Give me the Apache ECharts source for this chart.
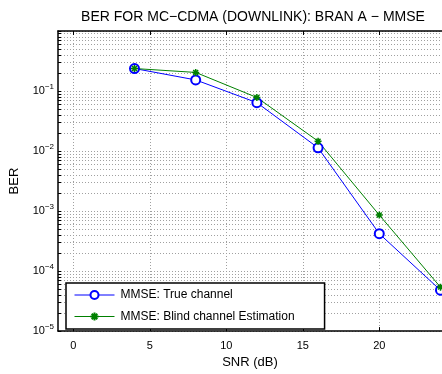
<!DOCTYPE html>
<html><head><meta charset="utf-8">
<script src="https://cdn.jsdelivr.net/npm/echarts@6/dist/echarts.min.js"></script>
<style>html,body{margin:0;padding:0;background:#fff}#c{width:442px;height:374px}</style>
</head><body><div id="c"></div>
<script>
const snr = [4, 8, 12, 16, 20, 24];
const berTrue = [0.237, 0.153, 0.064, 0.0113, 0.00042, 0.000048];
const berBlind = [0.237, 0.204, 0.078, 0.0146, 0.00086, 0.000054];
const xTicks = [0, 5, 10, 15, 20];
const yDecades = [1e-5, 1e-4, 1e-3, 1e-2, 1e-1];
const yMinor = [];
for (let d = -5; d < 0; d++) for (let m = 1; m <= 9; m++) yMinor.push(m * Math.pow(10, d));
yMinor.push(1);

const F = 'Liberation Sans, Arial, Helvetica, sans-serif';
const chart = echarts.init(document.getElementById('c'));
const gridLine = {show: true, lineStyle: {color: '#a0a0a0', type: [1, 2], width: 1}};
chart.setOption({
  animation: false,
  textStyle: {fontFamily: F},
  title: {text: 'BER FOR MC\u2212CDMA (DOWNLINK): BRAN A \u2212 MMSE', left: 248, textAlign: 'center', top: 5,
    textStyle: {fontFamily: F, fontSize: 14, fontWeight: 'normal', color: '#000'}},
  grid: {left: 52, right: 0, top: 31, bottom: 36, show: false},
  legend: {
    orient: 'vertical', left: 66, top: 283, itemWidth: 40, itemHeight: 10, itemGap: 9,
    padding: [6, 30, 6, 8], backgroundColor: '#fff', borderColor: '#000', borderWidth: 1.5, borderRadius: 0,
    lineStyle: {width: 1},
    textStyle: {fontFamily: F, fontSize: 12, color: '#000', padding: [0, 0, 0, 1]},
    data: ['MMSE: True channel', 'MMSE: Blind channel Estimation']
  },
  xAxis: [{
    type: 'value', min: -1, max: 24.1, position: 'bottom',
    axisLine: {show: true, onZero: false, lineStyle: {color: '#000', width: 1.5}},
    axisTick: {show: true, inside: true, length: 4, customValues: xTicks, lineStyle: {color: '#000'}},
    axisLabel: {customValues: xTicks, color: '#000', fontSize: 11, fontFamily: F, margin: 9},
    splitLine: gridLine,
    name: 'SNR (dB)', nameLocation: 'middle', nameGap: 24,
    nameTextStyle: {fontFamily: F, fontSize: 13, color: '#000'}
  }, {
    type: 'value', min: -1, max: 24.1, position: 'top',
    axisLine: {show: true, onZero: false, lineStyle: {color: '#000', width: 1.5}},
    axisTick: {show: true, inside: true, length: 4, customValues: xTicks, lineStyle: {color: '#000'}},
    axisLabel: {show: false}, splitLine: {show: false}
  }],
  yAxis: [{
    type: 'log', logBase: 10, min: 1e-5, max: 1, position: 'left',
    axisLine: {show: true, onZero: false, lineStyle: {color: '#000', width: 1.5}},
    axisTick: {show: true, inside: true, length: 3, customValues: yMinor, lineStyle: {color: '#000'}},
    axisLabel: {customValues: yDecades, color: '#000', margin: 4,
      formatter: v => '{b|10}{s|\u2212' + Math.round(-Math.log10(v)) + '}',
      rich: {b: {fontSize: 11, fontFamily: F, color: '#000'}, s: {fontSize: 8, fontFamily: F, color: '#000', padding: [0, 0, 8, 0]}}},
    splitLine: gridLine,
    name: 'BER', nameLocation: 'middle', nameGap: 37, nameRotate: 90,
    nameTextStyle: {fontFamily: F, fontSize: 13, color: '#000'}
  }],
  series: [{
    name: 'MMSE: True channel', type: 'line', xAxisIndex: 0, yAxisIndex: 0,
    data: snr.map((x, i) => [x, berTrue[i]]),
    symbol: 'emptyCircle', symbolSize: 9,
    lineStyle: {color: '#0000ff', width: 1}, itemStyle: {color: '#0000ff', borderColor: '#0000ff', borderWidth: 1}
  }, {
    name: 'MMSE: Blind channel Estimation', type: 'line', xAxisIndex: 0, yAxisIndex: 0,
    data: snr.map((x, i) => [x, berBlind[i]]),
    symbol: 'path://M0,5L10,5M5,0L5,10M1.5,1.5L8.5,8.5M8.5,1.5L1.5,8.5', symbolSize: 7,
    lineStyle: {color: '#008000', width: 1}, itemStyle: {color: 'none', borderColor: '#008000', borderWidth: 1.5}
  }]
});
</script></body></html>
